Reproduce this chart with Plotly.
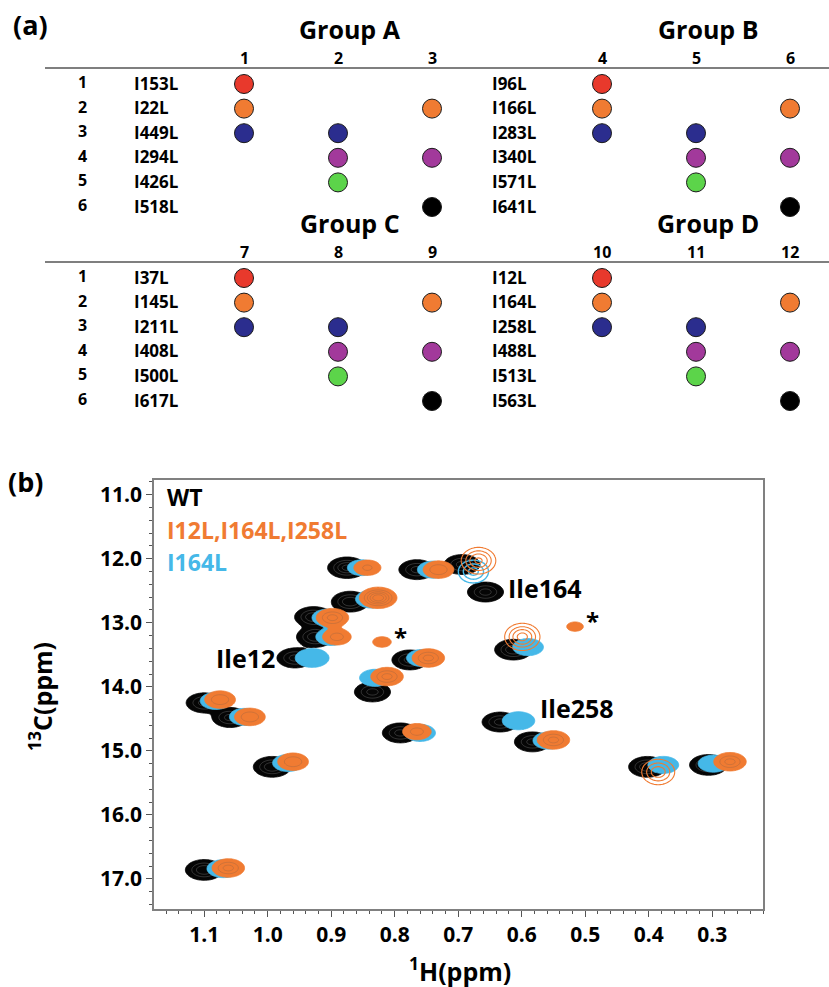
import numpy as np
import plotly.graph_objects as go

FONT = "Open Sans"

# ---------------- (a) Ile -> Leu mutant groups ----------------
group_names = ["Group A", "Group B", "Group C", "Group D"]
group_mutations = [
    ["I153L", "I22L", "I449L", "I294L", "I426L", "I518L"],
    ["I96L", "I166L", "I283L", "I340L", "I571L", "I641L"],
    ["I37L", "I145L", "I211L", "I408L", "I500L", "I617L"],
    ["I12L", "I164L", "I258L", "I488L", "I513L", "I563L"],
]
row_numbers = [1, 2, 3, 4, 5, 6]
# which of the three mutants of a group (1..3) carry each row's mutation
row_members = [[1], [1, 3], [1, 2], [2, 3], [2], [3]]
row_colors = ["#e8392c", "#f07b32", "#2b2d8e", "#a2399b", "#5cd44a", "#000000"]

# ---------------- (b) Ile methyl 13C-1H spectra ----------------
# WT (black)
wt_h = [1.100, 1.059, 0.993, 1.100, 0.791, 0.634, 0.583, 0.402, 0.306, 0.875,
        0.870, 0.928, 0.925, 0.957, 0.835, 0.776, 0.765, 0.694, 0.657, 0.613]
wt_c = [14.25, 14.48, 15.25, 16.86, 14.72, 14.55, 14.86, 15.25, 15.22, 12.14,
        12.67, 12.91, 13.22, 13.55, 14.08, 13.58, 12.17, 12.09, 12.52, 13.42]
wt_amp = [6, 6, 7, 7, 6, 6, 6, 7, 7, 8,
          7, 7, 7, 6, 6, 6, 6, 6, 6, 7]

# I164L (cyan)
single_h = [1.082, 1.036, 0.968, 1.070, 0.760, 0.605, 0.558, 0.377, 0.298, 0.852,
            0.836, 0.906, 0.900, 0.930, 0.831, 0.757, 0.740, 0.590]
single_c = [14.22, 14.47, 15.19, 16.84, 14.72, 14.53, 14.84, 15.22, 15.20, 12.14,
            12.63, 12.92, 13.22, 13.55, 13.86, 13.55, 12.17, 13.38]
single_amp = [5, 5, 5, 6, 5, 6, 5, 5, 5, 4,
              6, 5, 5, 7, 5, 5, 5, 5]
single_weak_h = [0.676]
single_weak_c = [12.20]
single_weak_amp = [0.9]

# I12L,I164L,I258L (orange)
triple_h = [1.075, 1.028, 0.960, 1.062, 0.765, 0.550, 0.272, 0.843, 0.826, 0.898,
            0.891, 0.812, 0.747, 0.731, 0.820, 0.516]
triple_c = [14.20, 14.47, 15.17, 16.83, 14.70, 14.83, 15.17, 12.14, 12.61, 12.92,
            13.22, 13.84, 13.55, 12.17, 13.30, 13.06]
triple_amp = [5, 5, 5, 6, 4, 6, 6, 3.5, 11, 6,
              4, 6, 6, 5, 1.8, 1.6]
triple_weak_h = [0.668, 0.599, 0.385]
triple_weak_c = [12.03, 13.22, 15.33]
triple_weak_amp = [0.9, 0.95, 0.8]

legend_labels = ["WT", "I12L,I164L,I258L", "I164L"]
legend_colors = ["#000000", "#f07b32", "#45b8e8"]
peak_labels = ["Ile12", "Ile164", "Ile258"]
peak_label_h = [1.035, 0.563, 0.513]
peak_label_c = [13.55, 12.45, 14.33]
star_h = [0.791, 0.489]
star_c = [13.22, 12.96]

BLACK, CYAN, ORANGE = "#050505", "#45b8e8", "#f07b32"

# spectral grid
gx = np.linspace(0.20, 1.20, 501)
gy = np.linspace(10.70, 17.50, 341)
GX, GY = np.meshgrid(gx, gy)


def spectrum(h, c, amp, sx, sy):
    z = np.zeros_like(GX)
    for hi, ci, ai in zip(h, c, amp):
        z += ai * np.exp(-0.5 * ((GX - hi) / sx) ** 2 - 0.5 * ((GY - ci) / sy) ** 2)
    return z.astype(np.float32)


def filled(z, color, name):
    # one contour level at 1.0: transparent below, solid colour above
    return go.Contour(x=gx, y=gy, z=z, name=name, showscale=False, hoverinfo="skip",
                      contours=dict(coloring="fill", start=1.0, end=1.0, size=1.0),
                      colorscale=[[0, "rgba(255,255,255,0)"], [1, color]],
                      line=dict(color=color, width=0.8, smoothing=1.0),
                      xaxis="x", yaxis="y")


def rings(z, color, start, end, size, width):
    return go.Contour(x=gx, y=gy, z=z, showscale=False, hoverinfo="skip",
                      contours=dict(coloring="none", start=start, end=end, size=size),
                      line=dict(color=color, width=width, smoothing=1.0),
                      xaxis="x", yaxis="y")


z_wt = spectrum(wt_h, wt_c, wt_amp, 0.0150, 0.082)
z_single = spectrum(single_h, single_c, single_amp, 0.0135, 0.074)
z_single_w = spectrum(single_weak_h, single_weak_c, single_weak_amp, 0.016, 0.12)
z_triple = spectrum(triple_h, triple_c, triple_amp, 0.0135, 0.076)
z_triple_w = spectrum(triple_weak_h, triple_weak_c, triple_weak_amp, 0.017, 0.13)

fig = go.Figure()
fig.add_trace(filled(z_wt, BLACK, "WT"))
fig.add_trace(rings(z_wt, "rgba(255,255,255,0.3)", 3.0, 20, 2.0, 0.6))
fig.add_trace(filled(z_single, CYAN, "I164L"))
fig.add_trace(rings(z_single_w, CYAN, 0.3, 0.9, 0.25, 1.4))
fig.add_trace(filled(z_triple, ORANGE, "I12L,I164L,I258L"))
fig.add_trace(rings(z_triple, "rgba(80,80,80,0.35)", 3.0, 20, 2.0, 0.6))
fig.add_trace(rings(z_triple_w, ORANGE, 0.25, 0.95, 0.2, 1.1))

# ---------------- table geometry (pixel-like units on x2/y2) ----------------
COL_X0, COL_DX, GROUP_DX = 244, 94, 358
LABEL_X, ROWNUM_X = 132, 82
ROW_Y0, ROW_DY, BLOCK_DY = 84, 24.6, 194

annotations = []
shapes = []
cx, cy, cc = [], [], []


def tbl_text(x, y, text, size, anchor="center", color="black"):
    annotations.append(dict(x=x, y=y, xref="x2", yref="y2", text=f"<b>{text}</b>",
                            showarrow=False, xanchor=anchor, yanchor="middle",
                            font=dict(family=FONT, size=size, color=color)))


for g, (gname, muts) in enumerate(zip(group_names, group_mutations)):
    side, block = g % 2, g // 2
    x_off = side * GROUP_DX
    y0 = ROW_Y0 + block * BLOCK_DY
    tbl_text(COL_X0 + COL_DX + x_off + 12, y0 - 55, gname, 25)
    for k in range(3):
        tbl_text(COL_X0 + k * COL_DX + x_off, y0 - 26, str(3 * g + k + 1), 16)
    if side == 0:
        shapes.append(dict(type="line", xref="x2", yref="y2", x0=45, x1=829,
                           y0=y0 - 16, y1=y0 - 16,
                           line=dict(color="#7f7f7f", width=2)))
    for r, mut in enumerate(muts):
        yr = y0 + r * ROW_DY
        if side == 0:
            tbl_text(ROWNUM_X, yr - 2, str(row_numbers[r]), 16)
        tbl_text(LABEL_X + x_off, yr - 1, mut, 17, anchor="left")
        for m in row_members[r]:
            cx.append(COL_X0 + (m - 1) * COL_DX + x_off)
            cy.append(yr)
            cc.append(row_colors[r])

fig.add_trace(go.Scatter(x=cx, y=cy, mode="markers", xaxis="x2", yaxis="y2",
                         hoverinfo="skip",
                         marker=dict(size=19, color=cc, line=dict(color="#1a1a1a", width=1))))

# panel letters
annotations.append(dict(x=30, y=24, xref="x2", yref="y2", text="<b>(a)</b>", showarrow=False,
                        font=dict(family=FONT, size=27, color="black")))
annotations.append(dict(x=25, y=481, xref="x2", yref="y2", text="<b>(b)</b>", showarrow=False,
                        font=dict(family=FONT, size=27, color="black")))

# ---------------- spectrum annotations ----------------
leg_c = [11.03, 11.55, 12.05]
for lab, col, yc in zip(legend_labels, legend_colors, leg_c):
    annotations.append(dict(x=1.162, y=yc, xref="x", yref="y", text=f"<b>{lab}</b>",
                            showarrow=False, xanchor="left", yanchor="middle",
                            font=dict(family=FONT, size=23, color=col)))
for lab, h, c in zip(peak_labels, peak_label_h, peak_label_c):
    annotations.append(dict(x=h, y=c, xref="x", yref="y", text=f"<b>{lab}</b>",
                            showarrow=False, xanchor="center", yanchor="middle",
                            font=dict(family=FONT, size=25, color="black")))
for h, c in zip(star_h, star_c):
    annotations.append(dict(x=h, y=c, xref="x", yref="y", text="<b>*</b>",
                            showarrow=False, xanchor="center", yanchor="middle",
                            font=dict(family=FONT, size=24, color="black")))

# axis titles
annotations.append(dict(x=460, y=969, xref="x2", yref="y2", text="<b><sup>1</sup>H(ppm)</b>",
                        showarrow=False, font=dict(family=FONT, size=25, color="black")))
annotations.append(dict(x=40, y=697, xref="x2", yref="y2", text="<b><sup>13</sup>C(ppm)</b>",
                        showarrow=False, textangle=-90,
                        font=dict(family=FONT, size=25, color="black")))

tickfont = dict(family=FONT, size=21, color="black", weight="bold")
axis_common = dict(showgrid=False, zeroline=False, showline=True, linecolor="#808080",
                   linewidth=1.5, mirror=True, ticks="outside", ticklen=6, tickwidth=1.2,
                   tickcolor="#555555", tickfont=tickfont, tickformat=".1f")

fig.update_layout(
    width=829, height=987, margin=dict(l=0, r=0, t=0, b=0),
    paper_bgcolor="white", plot_bgcolor="rgba(0,0,0,0)", showlegend=False,
    xaxis=dict(domain=[154 / 829, 763 / 829], range=[1.179, 0.22], tickmode="linear",
               tick0=0.3, dtick=0.1,
               minor=dict(ticks="outside", dtick=0.02, ticklen=3, tickcolor="#555555",
                          showgrid=False),
               **axis_common),
    yaxis=dict(domain=[(987 - 909) / 987, (987 - 480) / 987], range=[17.47, 10.77],
               tickmode="linear", tick0=11, dtick=1,
               minor=dict(ticks="outside", dtick=0.2, ticklen=3, tickcolor="#555555",
                          showgrid=False),
               **axis_common),
    xaxis2=dict(domain=[0, 1], range=[0, 829], visible=False, fixedrange=True),
    yaxis2=dict(domain=[0, 1], range=[987, 0], visible=False, fixedrange=True),
    annotations=annotations, shapes=shapes,
)

fig.write_html("out.html")
